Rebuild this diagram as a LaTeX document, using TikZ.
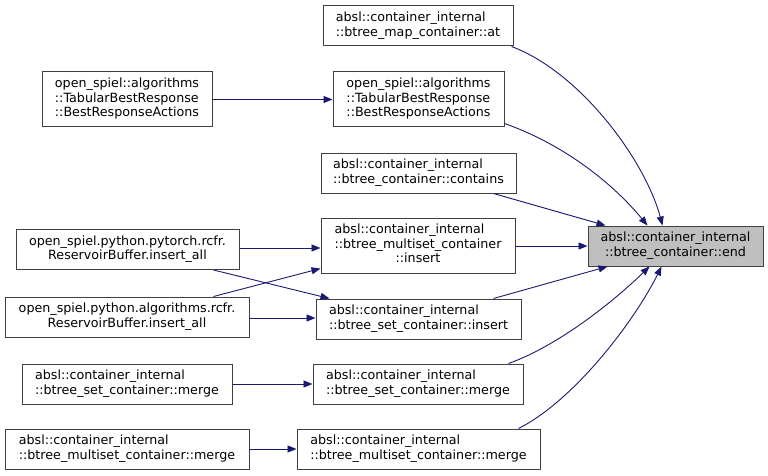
\documentclass[tikz,border=0pt]{standalone}
\usepackage{fontspec}
\setmainfont{DejaVu Sans}
\usetikzlibrary{arrows.meta,calc}
\definecolor{edgec}{HTML}{191970}
\definecolor{boxc}{HTML}{404040}
\definecolor{hl}{HTML}{BFBFBF}
\newcommand{\twol}[2]{\begin{tabular}{@{}l@{}}#1\\\multicolumn{1}{@{}c@{}}{#2}\end{tabular}}
\begin{document}
\begin{tikzpicture}[x=1pt,y=-1pt,
 fn/.style={draw=boxc,line width=1pt,fill=white,inner sep=0pt,font=\fontsize{12.7}{14.5}\selectfont,minimum height=40pt},
 e/.style={draw=edgec,line width=0.9pt,-{Triangle[length=9pt,width=7pt]}}]
\useasboundingbox (0,0) rectangle (768,476);
\node[fn,fill=hl,minimum width=175pt] (end) at (675.5,246) {\twol{absl::container\_internal}{::btree\_container::end}};
\node[fn,minimum width=190pt] (at) at (418,26) {\twol{absl::container\_internal}{::btree\_map\_container::at}};
\node[fn,minimum width=171pt,minimum height=55pt] (bram) at (418.5,99.5) {\twol{open\_spiel::algorithms\\::TabularBestResponse}{::BestResponseActions}};
\node[fn,minimum width=170pt,minimum height=55pt] (bral) at (127,99.5) {\twol{open\_spiel::algorithms\\::TabularBestResponse}{::BestResponseActions}};
\node[fn,minimum width=195pt] (cont) at (418.5,173) {\twol{absl::container\_internal}{::btree\_container::contains}};
\node[fn,minimum width=194pt,minimum height=55pt] (msi) at (418,245.5) {\twol{absl::container\_internal\\::btree\_multiset\_container}{::insert}};
\node[fn,minimum width=223pt] (pyt) at (127.5,249.5) {\twol{open\_spiel.python.pytorch.rcfr.}{ReservoirBuffer.insert\_all}};
\node[fn,minimum width=244pt] (alg) at (127,317) {\twol{open\_spiel.python.algorithms.rcfr.}{ReservoirBuffer.insert\_all}};
\node[fn,minimum width=205pt] (si) at (418.5,319) {\twol{absl::container\_internal}{::btree\_set\_container::insert}};
\node[fn,minimum width=210pt] (sml) at (127,384) {\twol{absl::container\_internal}{::btree\_set\_container::merge}};
\node[fn,minimum width=210pt] (smm) at (418,384) {\twol{absl::container\_internal}{::btree\_set\_container::merge}};
\node[fn,minimum width=244pt] (mml) at (127,449) {\twol{absl::container\_internal}{::btree\_multiset\_container::merge}};
\node[fn,minimum width=243pt] (mmm) at (418.5,449) {\twol{absl::container\_internal}{::btree\_multiset\_container::merge}};
\draw[e] ([xshift=-2pt]at.south east) .. controls (580,72) and (645,160) .. ([xshift=75pt]end.north west);
\draw[e] ([yshift=4pt]bram.south east) .. controls (560,143) and (610,180) .. ([xshift=60pt]end.north west);
\draw[e] ([xshift=-23pt]cont.south east) -- ([xshift=18pt]end.north west);
\draw[e] (msi.east |- end.west) -- (end.west);
\draw[e] ([xshift=-28pt]si.north east) -- ([xshift=20pt]end.south west);
\draw[e] ([xshift=-15pt]smm.north east) .. controls (560,345) and (615,300) .. ([xshift=62pt]end.south west);
\draw[e] ([xshift=-22pt]mmm.north east) .. controls (575,400) and (635,320) .. ([xshift=74pt]end.south west);
\draw[e] (bral.east) -- (bram.west);
\draw[e] ([yshift=1.5pt]pyt.east) -- ([yshift=1.5pt]pyt.east -| msi.west);
\draw[e] ([xshift=-26pt]pyt.south east) -- ([xshift=14pt]si.north west);
\draw[e] ([xshift=-36pt]alg.north east) -- ([yshift=5pt]msi.south west);
\draw[e] ([yshift=-1pt]alg.east) -- ([yshift=-1pt]alg.east -| si.west);
\draw[e] (sml.east) -- (smm.west);
\draw[e] (mml.east) -- (mmm.west);
\end{tikzpicture}
\end{document}
